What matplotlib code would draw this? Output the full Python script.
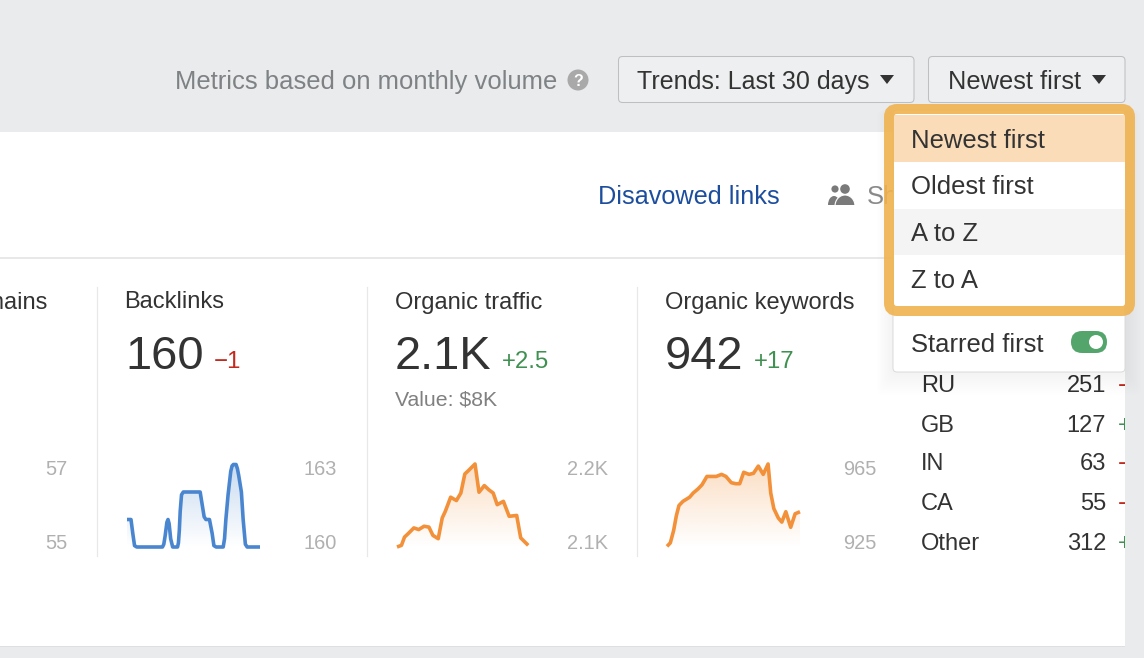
import numpy as np
import matplotlib
matplotlib.use("Agg")
import matplotlib.pyplot as plt
from matplotlib.patches import FancyBboxPatch, Rectangle, Circle, Polygon, Ellipse

plt.rcParams['font.family'] = ['Liberation Sans', 'DejaVu Sans']

backlink_days = [0, .9, 1.3, 1.7, 2.2, 8.0, 8.3, 8.6, 9.0, 9.25, 9.5, 9.85, 10.3, 11.4, 11.6, 11.8, 12.0, 12.3, 12.7, 16.5, 16.9, 17.4, 17.8, 18.6, 19.2,
                 19.6, 20.1, 21.7, 22.0, 22.3, 22.8, 23.4, 23.7, 24, 24.6, 24.9, 25.2, 25.8, 26.2, 26.7, 27.1, 30]
backlink_vals = [161, 161, 160.5, 160.05, 160, 160, 160.1, 160.4, 160.9, 161, 160.85, 160.3, 160, 160, 160.15, 160.6, 161.3, 161.9, 162, 162, 161.6, 161.1, 161, 161, 160.5,
                 160.05, 160, 160, 160.3, 161, 161.9, 162.75, 162.95, 163, 163, 162.85, 162.6, 162, 161, 160.1, 160, 160]
traffic_days = [0, 1, 1.7, 2.5, 3.8, 4.9, 6.1, 7.2, 8.1, 9.3, 10.2, 10.9, 12.1, 13.4, 14.4, 15.3, 16.1, 17.6, 18.5, 19.7, 20.7,
                21.7, 22.6, 24, 25.3, 27, 27.9, 29.6]
traffic_vals = [2100, 2102, 2112, 2116, 2123, 2121, 2125, 2124, 2114, 2110, 2135, 2143, 2160, 2156, 2165, 2188, 2192, 2200, 2166,
                2174, 2169, 2165, 2151, 2155, 2137, 2138, 2111, 2102]
keyword_days = [0, .75, 1.5, 2.1, 2.7, 3.6, 5.1, 5.9, 7, 7.9, 9, 11.1, 12.3, 13.3, 14.5, 15.5, 16.4, 17.3, 18.5, 19.5, 20.6, 21.7,
                22.8, 23.4, 24.1, 25.1, 25.9, 26.8, 27.9, 28.9, 30]
keyword_vals = [925.3, 927, 933, 940, 945, 947, 949, 951, 953, 955, 959, 959, 960, 959, 956, 955.5, 955.5, 961, 960, 960.5, 964,
                960, 965, 951, 943.5, 939, 937, 942, 934.5, 941, 942]
country_names = ["RU", "GB", "IN", "CA", "Other"]
country_vals = ["251", "127", "63", "55", "312"]
sort_options = ["Newest first", "Oldest first", "A to Z", "Z to A"]

W, H = 1144, 658
fig = plt.figure(figsize=(W / 100, H / 100), dpi=100, facecolor="#EAEBED")
ui = fig.add_axes([0, 0, 1, 1], zorder=1)
ui.set_xlim(0, W); ui.set_ylim(H, 0); ui.axis("off")
overlay = fig.add_axes([0, 0, 1, 1], zorder=5)
overlay.set_xlim(0, W); overlay.set_ylim(H, 0); overlay.axis("off"); overlay.patch.set_alpha(0)

DARK = "#333333"; GREY = "#B0B0B0"; MID = "#808080"
GREEN = "#3E9150"; RED = "#C22A20"

def T(ax, x, y, s, px=25.6, c=DARK, ha="left", **kw):
    return ax.text(x, y, s, fontsize=px * .72, color=c, ha=ha, va="center_baseline", **kw)

def box(ax, x0, y0, x1, y1, r=4, fc="white", ec="none", lw=1, **kw):
    p = FancyBboxPatch((x0 + r, y0 + r), x1 - x0 - 2 * r, y1 - y0 - 2 * r, boxstyle=f"round,pad={r},rounding_size={r}",
                       fc=fc, ec=ec, lw=lw, **kw)
    ax.add_patch(p)
    return p

# page panel
ui.add_patch(Rectangle((0, 645), 1125, 2, fc="#DEDFE1", ec="none"))
ui.add_patch(Rectangle((0, 132), 1125, 514, fc="white", ec="none"))
ui.plot([0, 1125], [258, 258], color="#E6E6E6", lw=1.3)
for x in (97.5, 367.5, 637.5):
    ui.plot([x - .5, x - .5], [287, 556], color="#E8E8E8", lw=.9)

# header
T(ui, 175, 79.5, "Metrics based on monthly volume", c="#7E8285")
ui.add_patch(Circle((578, 80), 10.5, fc="#A9A9A9", ec="none"))
T(ui, 578, 80, "?", px=16, c="white", ha="center", fontweight="bold")
box(ui, 618.5, 56.5, 914, 102.5, fc="#EEEFF0", ec="#BEBFC1", lw=.75)
T(ui, 637, 79.5, "Trends: Last 30 days", px=25.05)
ui.add_patch(Polygon([(880, 75), (894, 75), (887, 84)], fc=DARK, ec="none"))
box(ui, 928.5, 56.5, 1125, 102.5, fc="#EEEFF0", ec="#BEBFC1", lw=.75)
T(ui, 948, 79.5, "Newest first", px=25.4)
ui.add_patch(Polygon([(1092, 75), (1106, 75), (1099, 84)], fc=DARK, ec="none"))
T(ui, 598, 195, "Disavowed links", px=25.3, c="#1D4E9E")
# people icon
ICON = "#7A7A7A"
ui.add_patch(Circle((835, 189), 3.6, fc=ICON, ec="none"))
ui.add_patch(Circle((845, 189), 4.8, fc=ICON, ec="none"))
ui.add_patch(Ellipse((834, 205), 12, 18, fc=ICON, ec="none"))
ui.add_patch(Ellipse((845, 206), 20, 22, fc=ICON, ec="white", lw=.8))
ui.add_patch(Rectangle((825, 205), 32, 12, fc="white", ec="none"))
T(ui, 867, 195, "Sh", c="#8A8A8A")

# metric columns
nm = T(ui, 47, 300, "Referring domains", px=23.6, ha="right")
T(ui, 124.5, 300, "Backlinks", px=23.6)
T(ui, 395, 300, "Organic traffic", px=23.6)
T(ui, 665, 300, "Organic keywords", px=23.6)
T(ui, 125, 352, "160", px=47)
T(ui, 214, 360, "\u22121", px=24, c=RED)
T(ui, 395, 352, "2.1K", px=47)
T(ui, 502, 360, "+2.5", px=24, c=GREEN)
T(ui, 395, 398, "Value: $8K", px=21.3, c=MID)
T(ui, 665, 352, "942", px=47)
T(ui, 754, 360, "+17", px=24, c=GREEN)
for x, top, bot in ((67, "57", "55"), (337, "163", "160"), (608, "2.2K", "2.1K"), (877, "965", "925")):
    T(ui, x, 467.5, top, px=20, c=GREY, ha="right")
    T(ui, x, 541.5, bot, px=20, c=GREY, ha="right")

# country table
row_y = [384, 423, 462, 502, 542]
signs = [("\u2212", RED), ("+", GREEN), ("\u2212", RED), ("\u2212", RED), ("+", GREEN)]
panel_clip = Rectangle((0, 132), 1125, 514, transform=ui.transData)
for y, n, v, (sg, col) in zip(row_y, country_names, country_vals, signs):
    T(ui, 921, y, n, px=23.6)
    T(ui, 1106, y, v, px=23.6, ha="right")
    t = T(ui, 1118, y, sg, px=23.6, c=col, clip_on=True)
    t.set_clip_path(panel_clip)

# sparklines
def spark(px_box, days, vals, ylim, color, xmax=30):
    x0, x1, y0, y1 = px_box
    ax = fig.add_axes([x0 / W, 1 - y1 / H, (x1 - x0) / W, (y1 - y0) / H], zorder=2)
    ax.set_xlim(0, xmax); ax.set_ylim(*ylim); ax.axis("off")
    poly = ax.fill_between(days, vals, ylim[0], color="none")
    grad = np.linspace(0, 1, 256).reshape(-1, 1)
    rgba = np.zeros((256, 1, 4))
    rgba[..., :3] = matplotlib.colors.to_rgb(color)
    rgba[..., 3] = (1 - grad[:, 0:1]) * .30
    im = ax.imshow(rgba, extent=[0, xmax, ylim[0], ylim[1]], aspect="auto", origin="upper", zorder=1)
    im.set_clip_path(poly.get_paths()[0], transform=ax.transData)
    ax.plot(days, vals, color=color, lw=2.6, solid_joinstyle="round", solid_capstyle="butt", zorder=3, clip_on=False)

spark((127, 260, 464.5, 547), backlink_days, backlink_vals, (160, 163), "#4A86D0")
spark((397, 530, 464, 547), traffic_days, traffic_vals, (2100, 2200), "#F2913A")
spark((667, 800, 464, 547), keyword_days, keyword_vals, (925, 965), "#F2913A")

# dropdown (above everything)
for i in range(1, 25, 2):
    box(overlay, 893 - i * .7, 110, 1125 + i * .7, 372 + i, r=6, fc="black", alpha=.0055, zorder=1)
box(overlay, 893, 110, 1125, 372, r=4, fc="white", ec="#DADADA", lw=.7, zorder=2)
rows = [(115, 162, "#FADCB9"), (162, 209, "white"), (209, 255, "#F4F4F4"), (255, 306, "white")]
for (y0, y1, col), label in zip(rows, sort_options):
    overlay.add_patch(Rectangle((894, y0), 231, y1 - y0, fc=col, ec="none", zorder=3))
    T(overlay, 911, (y0 + min(y1, y0 + 47)) / 2 - .5, label, zorder=4)
T(overlay, 911, 342, "Starred first", zorder=4)
box(overlay, 1071, 331, 1107, 353, r=11, fc="#53A56B", zorder=4)
overlay.add_patch(Circle((1096, 342), 7, fc="white", ec="none", zorder=5))
frame = FancyBboxPatch((894, 114), 231, 192, boxstyle="round,pad=5,rounding_size=8", fc="none", ec="#F0B34F", lw=7.2,
                       alpha=.9, zorder=6)
overlay.add_patch(frame)

fig.savefig("out.png", dpi=100, facecolor=fig.get_facecolor())
